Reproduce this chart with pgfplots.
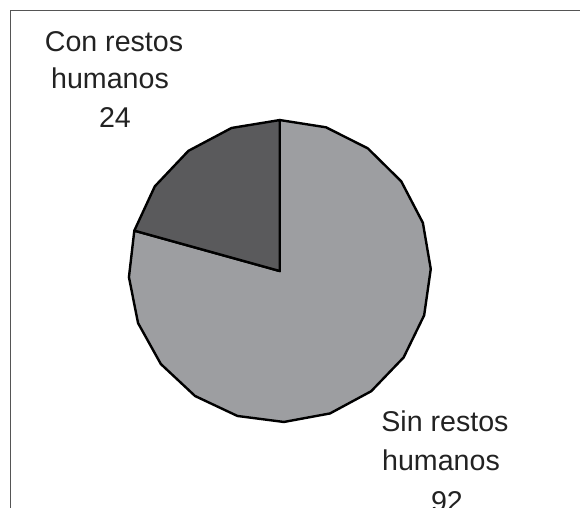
\documentclass[border=0pt]{standalone}
\usepackage{pgfplots}
\pgfplotsset{compat=1.18}
\usepgfplotslibrary{polar}
\usepackage{fontspec}
\setmainfont{Liberation Sans}
\definecolor{darkslice}{HTML}{5A5A5C}
\definecolor{lightslice}{HTML}{9D9EA1}
\definecolor{frame}{HTML}{555555}
\definecolor{txt}{HTML}{222222}
\begin{document}
% 1 unit = one pixel of the 580x508 reference, y measured downwards as -y
\begin{tikzpicture}[x=0.5pt,y=0.5pt]
  \clip (0,0) rectangle (580,-508);
  \draw[frame, line width=0.9pt] (10.5,-600) |- (700,-10.5);
  % Con restos humanos = 24, Sin restos humanos = 92 (of 116)
  \begin{polaraxis}[
      hide axis, clip=false,
      scale only axis, width=151pt, height=151pt,
      xmin=0, xmax=360, ymin=0, ymax=1,
      at={(185.3,-179.5)}, anchor=center,
    ]
    \addplot[draw=black, line width=1.2pt, line join=round, fill=lightslice]
      coordinates {(0,0) (164.48,1) (182.33,1) (200.17,1) (218.02,1)
        (235.86,1) (253.71,1) (271.55,1) (289.40,1) (307.24,1) (325.09,1)
        (342.93,1) (360.78,1) (378.62,1) (396.47,1) (414.31,1) (432.16,1)
        (450,1)} -- cycle;
    \addplot[draw=black, line width=1.2pt, line join=round, fill=darkslice]
      coordinates {(0,0) (90,1) (108.62,1) (127.24,1) (145.86,1)
        (164.48,1)} -- cycle;
  \end{polaraxis}
  \begin{scope}[every node/.style={anchor=base, inner sep=0pt, text=txt,
      font=\fontsize{14.3}{17}\selectfont}]
    \node at (114,-52) {Con restos};
    \node at (110,-89) {humanos};
    \node at (115,-128) {24};
    \node at (445,-432) {Sin restos};
    \node at (441,-471) {humanos};
    \node at (447,-512) {92};
  \end{scope}
\end{tikzpicture}
\end{document}
